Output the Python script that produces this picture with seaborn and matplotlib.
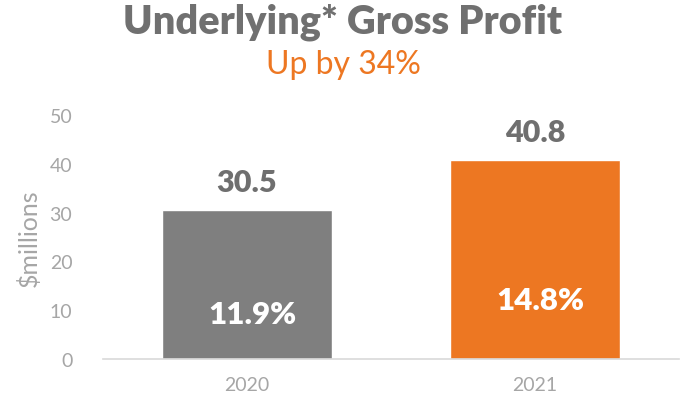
import pandas as pd
import seaborn as sns
from matplotlib import pyplot as plt

years = ["2020", "2021"]
profit = [30.5, 40.8]
margin = ["11.9%", "14.8%"]
bar_colors = ["#7F7F7F", "#ED7722"]

TITLE = "Underlying* Gross Profit"
SUBTITLE = "Up by 34%"

sns.set_theme(style="white")
plt.rcParams["font.family"] = ["Lato", "DejaVu Sans"]

df = pd.DataFrame({"year": years, "profit": profit})

fig = plt.figure(figsize=(6.86, 4.02), dpi=100)
ax = fig.add_axes([0.150, 0.1045, 0.840, 0.607])

sns.barplot(data=df, x="year", y="profit", hue="year", palette=bar_colors,
            width=0.59, legend=False, saturation=1, ax=ax)

ax.set_ylim(0, 50)
ax.set_yticks(range(0, 51, 10))
ax.set_xlabel("")
ax.set_ylabel("$millions", color="#A6A6A6", fontsize=18, labelpad=6)
ax.tick_params(axis="both", length=0, labelsize=14, labelcolor="#A6A6A6")
ax.tick_params(axis="y", pad=22)
ax.tick_params(axis="x", pad=12)

sns.despine(ax=ax, left=True)
ax.spines["bottom"].set_color("#D9D9D9")
ax.spines["bottom"].set_linewidth(1.2)

# value labels above, margin labels inside
for i, (v, m) in enumerate(zip(profit, margin)):
    ax.text(i, v + 2.9, f"{v}", ha="center", va="bottom", fontsize=22,
            fontweight="heavy", color="#6F6F6F")
    ax.text(i + 0.02, [9.3, 12.0][i], m, ha="center", va="center", fontsize=22.5,
            fontweight="heavy", color="white")

fig.text(0.5, 0.945, TITLE, ha="center", va="center", fontsize=28.5,
         fontweight="heavy", color="#707070")
fig.text(0.5, 0.838, SUBTITLE, ha="center", va="center", fontsize=23,
         color="#ED7722")

fig.savefig("out.png", dpi=100)
